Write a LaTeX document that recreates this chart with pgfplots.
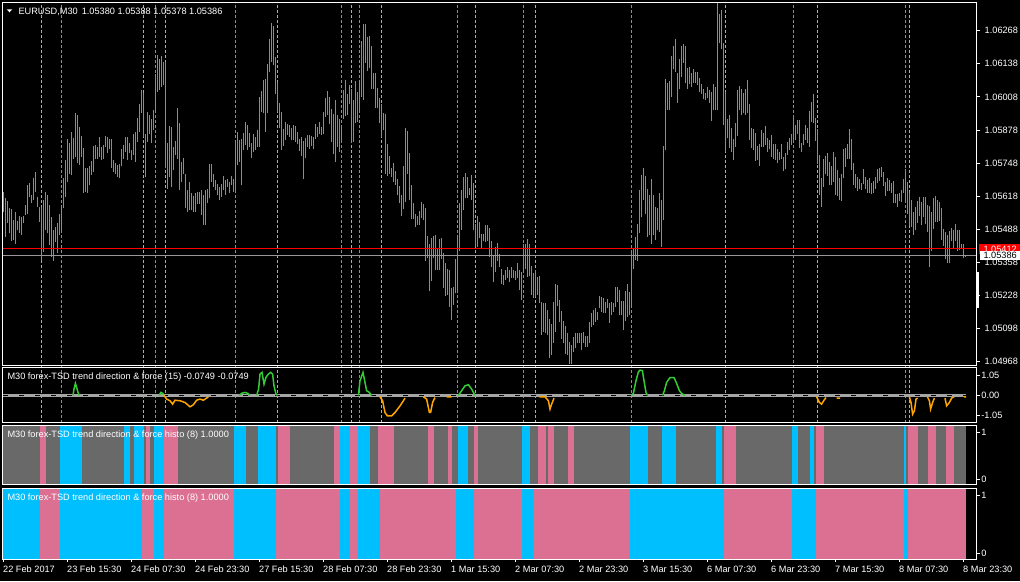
\documentclass[border=0pt]{standalone}
\usepackage{pgfplots}
\pgfplotsset{compat=1.18}
\usepackage{pgfplotstable}
\usepackage{fontspec}
\setmainfont{Liberation Sans}
\newcommand{\mt}{\fontsize{9.2}{10}\selectfont}

\definecolor{barcol}{RGB}{20,225,20}
\definecolor{sigorange}{RGB}{255,165,0}
\definecolor{siggreen}{RGB}{50,205,50}
\definecolor{zerogrey}{RGB}{165,165,165}
\definecolor{hgrey}{RGB}{105,105,105}
\definecolor{hpink}{RGB}{219,112,147}
\definecolor{hblue}{RGB}{0,191,255}
\definecolor{pgrey}{RGB}{150,150,155}

% EURUSD M30 bars: index, high, low
\pgfplotstableread{
i hi lo
0 1.05633 1.05554
1 1.05609 1.05459
2 1.05599 1.05514
3 1.05572 1.05472
4 1.05567 1.05443
5 1.05524 1.05446
6 1.05555 1.05432
7 1.05521 1.05485
8 1.05542 1.05472
9 1.05537 1.05465
10 1.05540 1.05511
11 1.05583 1.05544
12 1.05661 1.05550
13 1.05668 1.05616
14 1.05622 1.05590
15 1.05688 1.05605
16 1.05715 1.05635
17 1.05616 1.05576
18 1.05576 1.05518
19 1.05576 1.05367
20 1.05603 1.05400
21 1.05635 1.05485
22 1.05622 1.05472
23 1.05583 1.05426
24 1.05537 1.05380
25 1.05485 1.05364
26 1.05498 1.05439
27 1.05511 1.05393
28 1.05550 1.05465
29 1.05570 1.05485
30 1.05690 1.05570
31 1.05762 1.05616
32 1.05841 1.05675
33 1.05825 1.05707
34 1.05872 1.05701
35 1.05845 1.05766
36 1.05943 1.05773
37 1.05936 1.05747
38 1.05891 1.05740
39 1.05854 1.05773
40 1.05807 1.05629
41 1.05727 1.05635
42 1.05728 1.05631
43 1.05737 1.05661
44 1.05757 1.05701
45 1.05815 1.05714
46 1.05819 1.05766
47 1.05812 1.05766
48 1.05849 1.05773
49 1.05812 1.05760
50 1.05819 1.05766
51 1.05854 1.05812
52 1.05851 1.05789
53 1.05841 1.05802
54 1.05841 1.05727
55 1.05760 1.05714
56 1.05747 1.05707
57 1.05740 1.05694
58 1.05744 1.05688
59 1.05802 1.05736
60 1.05819 1.05766
61 1.05849 1.05792
62 1.05851 1.05760
63 1.05828 1.05786
64 1.05799 1.05760
65 1.05864 1.05779
66 1.05871 1.05753
67 1.05927 1.05832
68 1.05982 1.05871
69 1.06035 1.05943
70 1.06022 1.05851
71 1.05862 1.05694
72 1.05948 1.05832
73 1.05936 1.05864
74 1.05921 1.05825
75 1.05956 1.05877
76 1.06097 1.05956
77 1.06172 1.06028
78 1.06158 1.06037
79 1.06168 1.06048
80 1.06146 1.06054
81 1.06146 1.05727
82 1.05828 1.05648
83 1.05893 1.05694
84 1.05891 1.05655
85 1.05812 1.05720
86 1.05833 1.05779
87 1.05964 1.05766
88 1.05904 1.05642
89 1.05753 1.05675
90 1.05769 1.05707
91 1.05707 1.05570
92 1.05642 1.05557
93 1.05673 1.05563
94 1.05629 1.05563
95 1.05618 1.05557
96 1.05631 1.05557
97 1.05635 1.05587
98 1.05635 1.05587
99 1.05642 1.05544
100 1.05622 1.05504
101 1.05644 1.05504
102 1.05647 1.05590
103 1.05744 1.05609
104 1.05744 1.05675
105 1.05707 1.05655
106 1.05681 1.05642
107 1.05665 1.05622
108 1.05655 1.05603
109 1.05665 1.05616
110 1.05698 1.05642
111 1.05681 1.05622
112 1.05685 1.05655
113 1.05675 1.05629
114 1.05697 1.05661
115 1.05684 1.05635
116 1.05838 1.05635
117 1.05871 1.05740
118 1.05838 1.05753
119 1.05844 1.05661
120 1.05867 1.05799
121 1.05910 1.05819
122 1.05897 1.05799
123 1.05867 1.05812
124 1.05825 1.05770
125 1.05864 1.05792
126 1.05851 1.05799
127 1.05878 1.05812
128 1.06008 1.05812
129 1.06032 1.05950
130 1.06074 1.05943
131 1.06080 1.05871
132 1.06137 1.05946
133 1.06237 1.06107
134 1.06300 1.06146
135 1.06286 1.06133
136 1.06165 1.06021
137 1.06067 1.05950
138 1.05986 1.05884
139 1.05947 1.05799
140 1.05881 1.05815
141 1.05910 1.05838
142 1.05901 1.05858
143 1.05897 1.05851
144 1.05884 1.05838
145 1.05896 1.05838
146 1.05893 1.05832
147 1.05871 1.05822
148 1.05841 1.05796
149 1.05851 1.05775
150 1.05836 1.05686
151 1.05845 1.05770
152 1.05858 1.05812
153 1.05858 1.05802
154 1.05855 1.05816
155 1.05851 1.05803
156 1.05900 1.05842
157 1.05891 1.05851
158 1.05910 1.05862
159 1.05891 1.05858
160 1.05947 1.05864
161 1.06002 1.05930
162 1.06031 1.05936
163 1.06008 1.05901
164 1.05959 1.05832
165 1.05940 1.05782
166 1.05995 1.05753
167 1.05936 1.05812
168 1.05923 1.05792
169 1.05891 1.05838
170 1.06037 1.05923
171 1.06074 1.05933
172 1.06019 1.05936
173 1.06054 1.05982
174 1.06039 1.05825
175 1.05995 1.05832
176 1.06070 1.05904
177 1.06028 1.05910
178 1.06067 1.05956
179 1.06228 1.06008
180 1.06296 1.05995
181 1.06294 1.06142
182 1.06244 1.06110
183 1.06247 1.06120
184 1.06207 1.06041
185 1.06103 1.06041
186 1.06103 1.05966
187 1.06044 1.05963
188 1.06004 1.05904
189 1.05982 1.05851
190 1.05943 1.05878
191 1.05940 1.05707
192 1.05822 1.05697
193 1.05775 1.05707
194 1.05727 1.05694
195 1.05747 1.05675
196 1.05716 1.05661
197 1.05685 1.05622
198 1.05658 1.05590
199 1.05622 1.05540
200 1.05736 1.05566
201 1.05884 1.05596
202 1.05874 1.05707
203 1.05786 1.05603
204 1.05661 1.05527
205 1.05592 1.05527
206 1.05548 1.05498
207 1.05540 1.05504
208 1.05559 1.05504
209 1.05596 1.05531
210 1.05587 1.05524
211 1.05570 1.05364
212 1.05461 1.05374
213 1.05432 1.05247
214 1.05452 1.05286
215 1.05461 1.05377
216 1.05465 1.05330
217 1.05413 1.05330
218 1.05448 1.05330
219 1.05452 1.05370
220 1.05393 1.05256
221 1.05354 1.05226
222 1.05334 1.05230
223 1.05328 1.05181
224 1.05256 1.05131
225 1.05260 1.05190
226 1.05371 1.05236
227 1.05461 1.05236
228 1.05590 1.05404
229 1.05644 1.05485
230 1.05692 1.05563
231 1.05711 1.05609
232 1.05692 1.05609
233 1.05652 1.05622
234 1.05703 1.05605
235 1.05671 1.05485
236 1.05508 1.05419
237 1.05542 1.05419
238 1.05515 1.05452
239 1.05469 1.05409
240 1.05469 1.05443
241 1.05503 1.05439
242 1.05503 1.05443
243 1.05495 1.05380
244 1.05443 1.05338
245 1.05387 1.05282
246 1.05419 1.05321
247 1.05435 1.05364
248 1.05391 1.05341
249 1.05334 1.05275
250 1.05308 1.05269
251 1.05330 1.05288
252 1.05341 1.05295
253 1.05328 1.05282
254 1.05341 1.05295
255 1.05328 1.05295
256 1.05325 1.05288
257 1.05354 1.05295
258 1.05330 1.05249
259 1.05321 1.05210
260 1.05432 1.05315
261 1.05432 1.05334
262 1.05448 1.05302
263 1.05430 1.05304
264 1.05343 1.05230
265 1.05317 1.05219
266 1.05330 1.05223
267 1.05299 1.05230
268 1.05304 1.05199
269 1.05203 1.05073
270 1.05199 1.05086
271 1.05197 1.05079
272 1.05171 1.05073
273 1.05134 1.04981
274 1.05118 1.04994
275 1.05203 1.05040
276 1.05275 1.05086
277 1.05271 1.05186
278 1.05210 1.05125
279 1.05168 1.05059
280 1.05129 1.05040
281 1.05108 1.04998
282 1.05079 1.04994
283 1.05046 1.04957
284 1.05033 1.04957
285 1.05066 1.05007
286 1.05082 1.05020
287 1.05079 1.05040
288 1.05082 1.05040
289 1.05082 1.05014
290 1.05086 1.05040
291 1.05069 1.05024
292 1.05069 1.05027
293 1.05125 1.05040
294 1.05158 1.05105
295 1.05173 1.05112
296 1.05177 1.05125
297 1.05164 1.05131
298 1.05226 1.05177
299 1.05223 1.05164
300 1.05220 1.05158
301 1.05203 1.05158
302 1.05216 1.05177
303 1.05197 1.05121
304 1.05203 1.05151
305 1.05197 1.05164
306 1.05260 1.05184
307 1.05260 1.05203
308 1.05249 1.05151
309 1.05206 1.05151
310 1.05207 1.05092
311 1.05247 1.05129
312 1.05275 1.05144
313 1.05243 1.05151
314 1.05393 1.05184
315 1.05413 1.05334
316 1.05459 1.05367
317 1.05508 1.05364
318 1.05642 1.05472
319 1.05701 1.05535
320 1.05727 1.05603
321 1.05697 1.05550
322 1.05648 1.05459
323 1.05622 1.05465
324 1.05684 1.05432
325 1.05622 1.05465
326 1.05574 1.05446
327 1.05570 1.05485
328 1.05631 1.05478
329 1.05603 1.05419
330 1.05815 1.05524
331 1.06080 1.05799
332 1.06061 1.05956
333 1.06071 1.05956
334 1.06168 1.06008
335 1.06207 1.06116
336 1.06234 1.06107
337 1.06103 1.05985
338 1.06155 1.06041
339 1.06207 1.06087
340 1.06215 1.06142
341 1.06207 1.06061
342 1.06120 1.06041
343 1.06126 1.06058
344 1.06103 1.06045
345 1.06116 1.06061
346 1.06107 1.06061
347 1.06105 1.06054
348 1.06083 1.06028
349 1.06058 1.06021
350 1.06041 1.05998
351 1.06024 1.05995
352 1.06045 1.06002
353 1.06035 1.05985
354 1.06028 1.05914
355 1.06058 1.05956
356 1.06048 1.05956
357 1.06375 1.05956
358 1.06333 1.06218
359 1.06351 1.06198
360 1.06220 1.05897
361 1.06028 1.05792
362 1.05923 1.05845
363 1.05936 1.05806
364 1.05884 1.05792
365 1.05841 1.05762
366 1.05904 1.05812
367 1.06037 1.05854
368 1.06050 1.05956
369 1.06041 1.05936
370 1.06024 1.05943
371 1.06041 1.05936
372 1.06074 1.05943
373 1.05982 1.05838
374 1.05884 1.05806
375 1.05880 1.05799
376 1.05867 1.05757
377 1.05815 1.05760
378 1.05825 1.05736
379 1.05878 1.05812
380 1.05867 1.05812
381 1.05894 1.05819
382 1.05845 1.05792
383 1.05838 1.05802
384 1.05858 1.05773
385 1.05825 1.05766
386 1.05822 1.05760
387 1.05805 1.05747
388 1.05792 1.05760
389 1.05822 1.05766
390 1.05773 1.05718
391 1.05786 1.05723
392 1.05832 1.05779
393 1.05845 1.05799
394 1.05864 1.05819
395 1.05930 1.05825
396 1.05897 1.05838
397 1.05919 1.05864
398 1.05917 1.05806
399 1.05825 1.05792
400 1.05864 1.05819
401 1.05897 1.05838
402 1.05884 1.05825
403 1.05953 1.05812
404 1.05989 1.05910
405 1.06019 1.05904
406 1.05927 1.05836
407 1.05880 1.05744
408 1.05779 1.05622
409 1.05688 1.05574
410 1.05766 1.05655
411 1.05775 1.05707
412 1.05786 1.05697
413 1.05753 1.05661
414 1.05736 1.05661
415 1.05792 1.05675
416 1.05773 1.05622
417 1.05720 1.05618
418 1.05688 1.05603
419 1.05707 1.05600
420 1.05803 1.05688
421 1.05809 1.05734
422 1.05822 1.05766
423 1.05880 1.05766
424 1.05841 1.05720
425 1.05750 1.05661
426 1.05705 1.05652
427 1.05692 1.05639
428 1.05684 1.05648
429 1.05671 1.05644
430 1.05723 1.05665
431 1.05694 1.05648
432 1.05681 1.05631
433 1.05690 1.05631
434 1.05671 1.05626
435 1.05677 1.05631
436 1.05694 1.05648
437 1.05723 1.05668
438 1.05727 1.05679
439 1.05731 1.05694
440 1.05714 1.05658
441 1.05672 1.05618
442 1.05688 1.05639
443 1.05681 1.05639
444 1.05668 1.05629
445 1.05677 1.05590
446 1.05626 1.05590
447 1.05626 1.05574
448 1.05629 1.05600
449 1.05644 1.05596
450 1.05684 1.05629
451 1.05723 1.05603
452 1.05675 1.05550
453 1.05629 1.05501
454 1.05605 1.05498
455 1.05557 1.05465
456 1.05576 1.05485
457 1.05599 1.05514
458 1.05613 1.05540
459 1.05596 1.05504
460 1.05613 1.05537
461 1.05613 1.05508
462 1.05583 1.05478
463 1.05579 1.05338
464 1.05557 1.05404
465 1.05609 1.05491
466 1.05618 1.05518
467 1.05605 1.05518
468 1.05596 1.05521
469 1.05570 1.05446
470 1.05491 1.05422
471 1.05478 1.05370
472 1.05465 1.05354
473 1.05482 1.05354
474 1.05495 1.05443
475 1.05485 1.05413
476 1.05508 1.05443
477 1.05485 1.05404
478 1.05487 1.05406
479 1.05432 1.05409
480 1.05432 1.05377
481 1.05388 1.05378
}\pricedata

% trend direction & force line, up part
\pgfplotstableread{
x y
35 0
35.5 0.34
36.2 0.64
36.8 0.43
37.5 0.16
38.2 0
nan nan
78 0
79 0.16
80 0.1
80.5 0
nan nan
118 0
119.5 0.12
121 0.16
122.5 0.11
123.5 0
nan nan
126.8 0
127.8 0.34
128.5 1.13
129.5 1.22
130.5 0.60
131.5 0.96
132.7 1.13
133.8 1.22
134.8 1.13
135.5 0.51
136.5 0.07
137.2 0
nan nan
177.7 0
178.5 0.78
180 1.22
181 0.69
181.8 0.25
183.2 0.16
184.3 0
nan nan
227.7 0
229.3 0.25
231 0.51
232.7 0.57
234.3 0.34
236 0
nan nan
314 0
315.2 0.11
316.5 0.78
317.7 1.25
318.5 1.34
319.7 1.31
320.5 0.78
321.5 0.16
322.3 0
nan nan
329.8 0
330.7 0.25
331.8 0.69
333.5 0.95
335.5 0.95
336.8 0.64
338.2 0.25
339.3 0.11
341 0
}\tdfup

% trend direction & force line, down part
\pgfplotstableread{
x y
80.2 0.05
81.8 -0.19
83.5 -0.28
84.8 -0.46
86 -0.25
88.5 -0.28
91 -0.37
93.5 -0.6
95.2 -0.49
96.8 -0.25
98.5 -0.19
100.2 -0.25
101.8 -0.14
102.7 -0.07
nan nan
188.5 -0.07
189.8 -0.28
191 -0.9
192.2 -1.08
194.3 -1.08
196 -0.9
198.5 -0.55
200.2 -0.28
201 -0.14
nan nan
210.2 -0.07
211.8 -0.19
213.2 -0.9
213.8 -0.9
214.8 -0.37
216 -0.11
nan nan
221.8 -0.07
224.3 -0.07
nan nan
268.2 -0.07
271 -0.07
272.7 -0.28
273.5 -0.72
274.3 -0.46
275.5 -0.14
nan nan
406.8 -0.07
408.2 -0.37
409.3 -0.46
410.5 -0.25
411.5 -0.11
nan nan
416.8 -0.14
418.5 -0.14
nan nan
453.2 -0.07
454 -0.37
454.8 -0.99
455.7 -0.81
456.5 -0.19
457.3 -0.14
nan nan
462.2 -0.07
463.2 -0.28
463.8 -0.72
464.8 -0.37
465.7 -0.14
nan nan
471 -0.14
471.8 -0.55
473.2 -0.37
474.3 -0.14
475.5 -0.07
nan nan
480.5 -0.07
481.5 -0.07
}\tdfdown

% histo (first): runs from a to b
\pgfplotstableread{
a b
28.5 39.5
60.5 63.5
65.5 70.5
75.5 80.5
115.5 121.5
127.5 136.5
168.5 173.5
177.5 183.5
227.5 232.5
259.5 263.5
313.5 322.5
329.5 336.5
356.5 359.5
394.5 397.5
403.5 405.5
450.5 451.5
}\hablue
\pgfplotstableread{
a b
18.5 21.5
71.5 73.5
80.5 87.5
137.5 143.5
165.5 168.5
173.5 177.5
187.5 195.5
212.5 215.5
222.5 224.5
235.5 237.5
267.5 271.5
272.5 275.5
282.5 285.5
360.5 366.5
406.5 410.5
452.5 457.5
462.5 466.5
471.5 475.5
}\hapink
% histo (second)
\pgfplotstableread{
a b
-0.15 18.5
28.5 69.5
75.5 80.5
115.5 136.5
168.5 173.5
177.5 188.5
226.5 235.5
259.5 265.5
313.5 360.5
394.5 406.5
450.5 452.5
}\hbblue

\pgfplotsset{
  mtpanel/.style={
    scale only axis, width=974pt,
    xmin=-0.15, xmax=486.85,
    axis on top,
    axis line style={white, line width=1pt},
    tick style={white, line width=1pt},
    major tick length=3pt,
    tick align=outside,
    xtick=\empty,
    ytick pos=right, yticklabel pos=right,
    tick label style={font=\mt, text=white},
    yticklabel style={anchor=west, inner sep=0pt, xshift=1.5pt},
  },
  runs/.style={only marks, mark=*, mark size=0pt, mark options={draw=none, fill=none},
    error bars/.cd, x dir=plus, x explicit,
    error mark=none, error bar style={line width=#1, line cap=butt}},
}

\begin{document}
\begin{tikzpicture}
\fill[black] (0pt,0pt) rectangle (1020pt,-581pt);

% signal lines through price and indicator panes
\begin{axis}[scale only axis, width=974pt, height=420pt, at={(2.7pt,-423pt)}, anchor=south west,
  xmin=-0.15, xmax=486.85, ymin=0, ymax=1, hide axis]
\addplot[sigorange, ycomb, mark=none, line width=1pt, dash pattern=on 3pt off 2pt]
  coordinates {(19.15,1)(70.15,1)(81.15,1)(137.15,1)(174.15,1)(189.15,1)(236.15,1)(266.15,1)(361.15,1)(407.15,1)(453.15,1)};
\addplot[siggreen, ycomb, mark=none, line width=1pt, dash pattern=on 3pt off 2pt]
  coordinates {(29.15,1)(76.15,1)(116.15,1)(169.15,1)(178.15,1)(227.15,1)(260.15,1)(314.15,1)(395.15,1)(451.15,1)};
\end{axis}

% price pane
\begin{axis}[mtpanel, at={(2.7pt,-365pt)}, anchor=south west, height=362.3pt,
  ymin=1.04955, ymax=1.06378,
  ytick={1.04968,1.05098,1.05228,1.05358,1.05488,1.05618,1.05748,1.05878,1.06008,1.06138,1.06268},
  yticklabels={1.04968,1.05098,1.05228,1.05358,1.05488,1.05618,1.05748,1.05878,1.06008,1.06138,1.06268},
  yticklabel style={xshift=3.3pt}]
\addplot[barcol, only marks, mark=*, mark size=0pt, mark options={draw=none, fill=none},
  error bars/.cd, y dir=plus, y explicit,
  error mark=none, error bar style={line width=1pt}]
  table[x=i, y=lo, y error expr=\thisrow{hi}-\thisrow{lo}] {\pricedata};
\addplot[red, line width=1pt] coordinates {(-0.15,1.05412)(486.85,1.05412)};
\addplot[pgrey, line width=1pt] coordinates {(-0.15,1.05386)(486.85,1.05386)};
\end{axis}

% trend direction & force pane
\begin{axis}[mtpanel, at={(2.7pt,-422.7pt)}, anchor=south west, height=55.4pt,
  ymin=-1.44, ymax=1.49, ytick={-1.05,0,1.05}, yticklabels={-1.05,0.00,1.05}]
\addplot[zerogrey, line width=3pt] coordinates {(0,0)(481.5,0)};
\addplot[black, line width=1pt, dash pattern=on 5pt off 11pt] coordinates {(0,0)(481.5,0)};
\addplot[siggreen, line width=1.5pt, unbounded coords=jump] table[x=x,y=y] {\tdfup};
\addplot[sigorange, line width=1.5pt, unbounded coords=jump] table[x=x,y=y] {\tdfdown};
\end{axis}

% histo pane 1
\begin{axis}[mtpanel, at={(2.7pt,-484.3pt)}, anchor=south west, height=59pt,
  ymin=-0.107, ymax=1.159, ytick={0,1}, yticklabels={0,1}]
\addplot[hgrey, runs=58pt] table[x=a, y expr=0.515, x error expr=\thisrow{b}-\thisrow{a}]
  {a b
  -0.15 481.5
  };
\addplot[hblue, runs=58pt] table[x=a, y expr=0.515, x error expr=\thisrow{b}-\thisrow{a}] {\hablue};
\addplot[hpink, runs=58pt] table[x=a, y expr=0.515, x error expr=\thisrow{b}-\thisrow{a}] {\hapink};
\end{axis}

% histo pane 2
\begin{axis}[mtpanel, at={(2.7pt,-559pt)}, anchor=south west, height=70.7pt,
  ymin=-0.098, ymax=1.115, ytick={0,1}, yticklabels={0,1},
  xtick={0,32,...,480}, xtick pos=bottom,
  xticklabels={22 Feb 2017,23 Feb 15:30,24 Feb 07:30,24 Feb 23:30,27 Feb 15:30,28 Feb 07:30,28 Feb 23:30,1 Mar 15:30,2 Mar 07:30,2 Mar 23:30,3 Mar 15:30,6 Mar 07:30,6 Mar 23:30,7 Mar 15:30,8 Mar 07:30,8 Mar 23:30},
  xticklabel style={anchor=north west, inner sep=0pt, yshift=-4pt}]
\addplot[hpink, runs=70pt] table[x=a, y expr=0.502, x error expr=\thisrow{b}-\thisrow{a}]
  {a b
  -0.15 481.5
  };
\addplot[hblue, runs=70pt] table[x=a, y expr=0.502, x error expr=\thisrow{b}-\thisrow{a}] {\hbblue};
\end{axis}

% pane texts and price labels
\fill[white] (6.7pt,-9.3pt) -- (12.3pt,-9.3pt) -- (9.5pt,-12.3pt) -- cycle;
\node[anchor=base west, inner sep=0pt, font=\mt, text=white] at (18.3pt,-14pt)
  {EURUSD,M30\hspace{4pt}1.05380 1.05388 1.05378 1.05386};
\node[anchor=base west, inner sep=0pt, font=\mt, text=white] at (7.3pt,-379.3pt)
  {M30 forex-TSD trend direction \& force (15) -0.0749 -0.0749};
\node[anchor=base west, inner sep=0pt, font=\mt, text=white] at (7.3pt,-437.7pt)
  {M30 forex-TSD trend direction \& force histo (8) 1.0000};
\node[anchor=base west, inner sep=0pt, font=\mt, text=white] at (7.3pt,-500.7pt)
  {M30 forex-TSD trend direction \& force histo (8) 1.0000};
\fill[red] (979pt,-244pt) rectangle (1020pt,-254pt);
\node[anchor=base west, inner sep=0pt, font=\mt, text=white] at (983.3pt,-252.6pt) {1.05412};
\fill[white] (980pt,-250.7pt) rectangle (1020pt,-259.7pt);
\node[anchor=base west, inner sep=0pt, font=\mt, text=black] at (983.3pt,-258.6pt) {1.05386};
\fill[white] (976.7pt,-271.7pt) rectangle (979pt,-308.3pt);

\pgfresetboundingbox
\useasboundingbox (0pt,0pt) rectangle (1020pt,-581pt);
\end{tikzpicture}
\end{document}
